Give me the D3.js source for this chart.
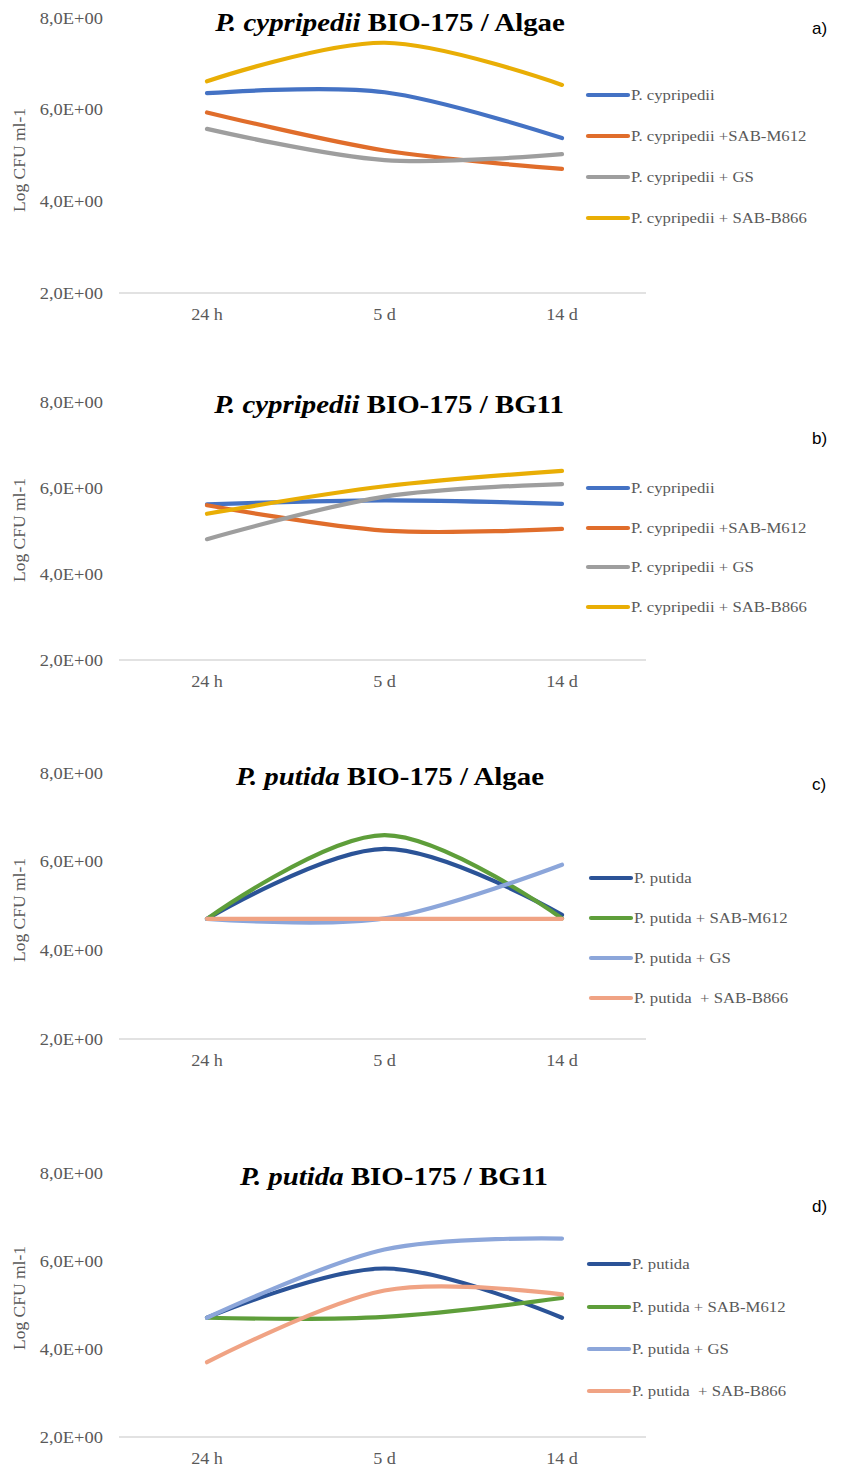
<!DOCTYPE html>
<html><head><meta charset="utf-8">
<script src="https://cdn.jsdelivr.net/npm/d3@7"></script>
<style>
html,body{margin:0;padding:0;background:#fff;}
svg{display:block;}
</style></head>
<body>
<svg id="c" width="846" height="1468"></svg>
<script>
// ---------- DATA ----------
const categories = ["24 h", "5 d", "14 d"];
const yTickValues = [2, 4, 6, 8];
const yTickLabels = ["2,0E+00", "4,0E+00", "6,0E+00", "8,0E+00"];
const yAxisTitle = "Log CFU ml-1";

const namesCyp = ["P. cypripedii", "P. cypripedii +SAB-M612", "P. cypripedii + GS", "P. cypripedii + SAB-B866"];
const namesPut = ["P. putida", "P. putida + SAB-M612", "P. putida + GS", "P. putida  + SAB-B866"];

// a) P. cypripedii BIO-175 / Algae
const aCyp      = [6.36, 6.38, 5.38];
const aCypM612  = [5.94, 5.11, 4.71];
const aCypGS    = [5.58, 4.90, 5.03];
const aCypB866  = [6.62, 7.46, 6.54];
// b) P. cypripedii BIO-175 / BG11
const bCyp      = [5.62, 5.71, 5.63];
const bCypM612  = [5.60, 5.01, 5.05];
const bCypGS    = [4.81, 5.80, 6.09];
const bCypB866  = [5.40, 6.04, 6.40];
// c) P. putida BIO-175 / Algae
const cPut      = [4.71, 6.29, 4.80];
const cPutM612  = [4.71, 6.60, 4.72];
const cPutGS    = [4.71, 4.72, 5.93];
const cPutB866  = [4.71, 4.71, 4.71];
// d) P. putida BIO-175 / BG11
const dPut      = [4.71, 5.83, 4.71];
const dPutM612  = [4.71, 4.73, 5.16];
const dPutGS    = [4.71, 6.26, 6.51];
const dPutB866  = [3.70, 5.33, 5.24];

const colorsCyp = ["#4472C4", "#E06D2B", "#9E9E9E", "#E9AE05"];
const colorsPut = ["#2B5397", "#5E9E3A", "#8CA6DA", "#F0A384"];

// ---------- LAYOUT ----------
const panels = [
  {italic: "P. cypripedii", rest: " BIO-175 / Algae", tag: "a)", tagY: 34, titleX: 390,
   yTop: 18, yBot: 293, titleY: 31, axisTitleY: 160, legY: [95, 136, 177, 218], legX: 588,
   names: namesCyp, colors: colorsCyp, series: [aCyp, aCypM612, aCypGS, aCypB866]},
  {italic: "P. cypripedii", rest: " BIO-175 / BG11", tag: "b)", tagY: 444, titleX: 389,
   yTop: 402, yBot: 660, titleY: 413, axisTitleY: 530, legY: [488, 528, 567, 607], legX: 588,
   names: namesCyp, colors: colorsCyp, series: [bCyp, bCypM612, bCypGS, bCypB866]},
  {italic: "P. putida", rest: " BIO-175 / Algae", tag: "c)", tagY: 790, titleX: 390,
   yTop: 773, yBot: 1039, titleY: 785, axisTitleY: 910, legY: [878, 918, 958, 998], legX: 591,
   names: namesPut, colors: colorsPut, series: [cPut, cPutM612, cPutGS, cPutB866]},
  {italic: "P. putida", rest: " BIO-175 / BG11", tag: "d)", tagY: 1212, titleX: 394,
   yTop: 1173, yBot: 1437, titleY: 1185, axisTitleY: 1298, legY: [1264, 1307, 1349, 1391], legX: 589,
   names: namesPut, colors: colorsPut, series: [dPut, dPutM612, dPutGS, dPutB866]}
];

const svg = d3.select("#c");
const serif = "'Liberation Serif','Times New Roman',serif";
const sans = "'Liberation Sans',Arial,sans-serif";
const x = d3.scalePoint().domain(categories).range([207, 562]);
const xLeft = 119, xRight = 646;
const tr = (px, py, sx) => `translate(${px},${py}) scale(${sx},1)`;

panels.forEach(p => {
  const g = svg.append("g");
  const y = d3.scaleLinear().domain([2, 8]).range([p.yBot, p.yTop]);

  // baseline axis
  g.append("line").attr("x1", xLeft).attr("x2", xRight)
    .attr("y1", y(2)).attr("y2", y(2))
    .attr("stroke", "#D9D9D9").attr("stroke-width", 1.3);

  // y tick labels
  g.selectAll(".yt").data(yTickValues).enter().append("text")
    .attr("transform", d => tr(103, y(d) + 5.5, 1.12))
    .attr("text-anchor", "end")
    .attr("font-family", serif).attr("font-size", 16.5).attr("fill", "#595959")
    .text((d, i) => yTickLabels[i]);

  // x tick labels
  g.selectAll(".xt").data(categories).enter().append("text")
    .attr("transform", d => tr(x(d), y(2) + 27, 1.1))
    .attr("text-anchor", "middle")
    .attr("font-family", serif).attr("font-size", 16.5).attr("fill", "#595959")
    .text(d => d);

  // y axis title
  g.append("text")
    .attr("transform", `translate(25,${p.axisTitleY}) rotate(-90)`)
    .attr("text-anchor", "middle")
    .attr("font-family", serif).attr("font-size", 17.5).attr("fill", "#595959")
    .text(yAxisTitle);

  // title
  const t = g.append("text").attr("transform", tr(p.titleX, p.titleY, 1.11))
    .attr("text-anchor", "middle")
    .attr("font-family", serif).attr("font-size", 26).attr("font-weight", "bold").attr("fill", "#000");
  t.append("tspan").attr("font-style", "italic").text(p.italic);
  t.append("tspan").text(p.rest);

  // panel tag
  g.append("text").attr("x", 812).attr("y", p.tagY)
    .attr("font-family", sans).attr("font-size", 17).attr("fill", "#000")
    .text(p.tag);

  // lines
  const line = d3.line()
    .x((d, i) => x(categories[i]))
    .y(d => y(d))
    .curve(d3.curveCardinal.tension(0));
  p.series.forEach((s, i) => {
    g.append("path").datum(s)
      .attr("d", line)
      .attr("fill", "none")
      .attr("stroke", p.colors[i])
      .attr("stroke-width", 4.2)
      .attr("stroke-linecap", "round")
      .attr("stroke-linejoin", "round");
  });

  // legend
  p.names.forEach((n, i) => {
    const ly = p.legY[i];
    g.append("line").attr("x1", p.legX).attr("x2", p.legX + 40)
      .attr("y1", ly).attr("y2", ly)
      .attr("stroke", p.colors[i]).attr("stroke-width", 4.2).attr("stroke-linecap", "round");
    g.append("text").attr("transform", tr(p.legX + 43, ly + 5, 1.08))
      .attr("font-family", serif).attr("font-size", 15.5).attr("fill", "#595959")
      .attr("xml:space", "preserve").style("white-space", "pre")
      .text(n);
  });
});
</script>
</body></html>
